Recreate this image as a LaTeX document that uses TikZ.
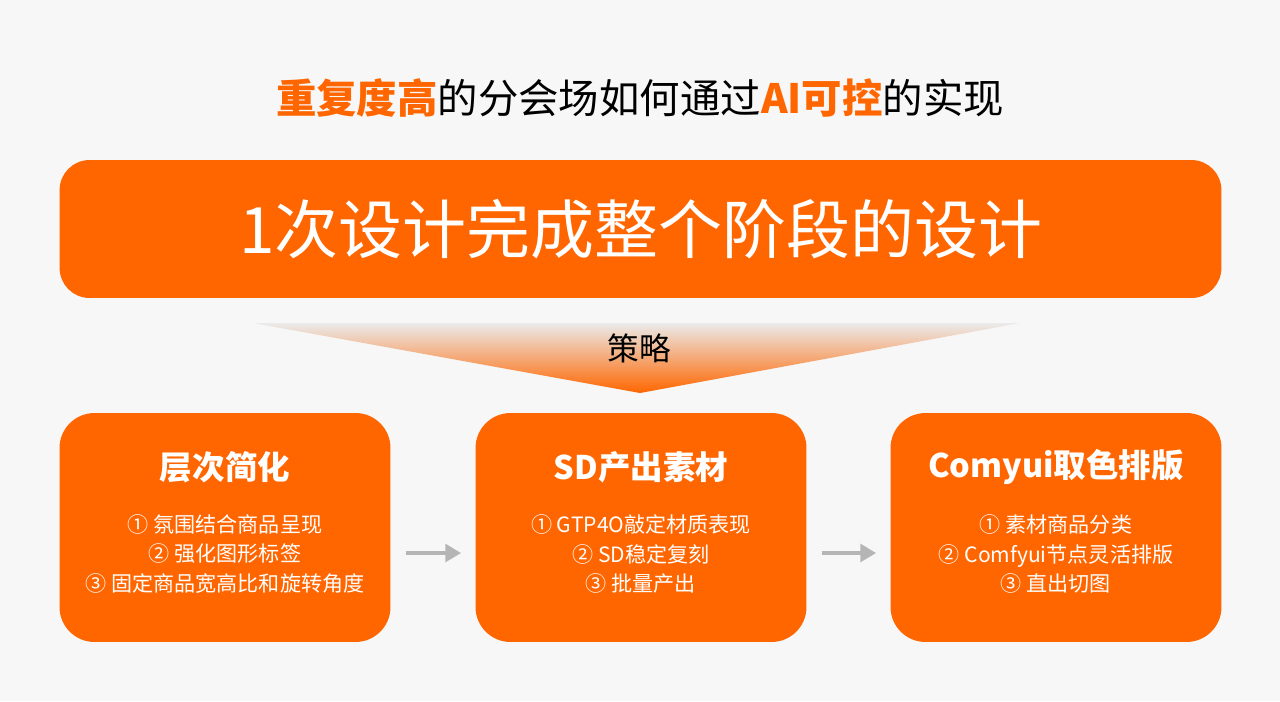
\documentclass[tikz,border=0pt]{standalone}
\usepackage{fontspec}
\setmainfont{Noto Sans CJK SC}
\usetikzlibrary{calc,arrows.meta}

\definecolor{brand}{HTML}{FF6600}
\definecolor{paper}{HTML}{F7F7F7}
\definecolor{flowgray}{HTML}{B5B5B5}

\tikzset{
    bar/.style={fill=brand, rounded corners=0.6cm, minimum width=23.24cm,
        minimum height=2.76cm, text=white, font=\fontsize{36.4}{40}\selectfont},
    stagebox/.style={fill=brand, rounded corners=0.7cm, minimum width=6.62cm,
        minimum height=4.58cm},
    stagetitle/.style={text=white, font=\bfseries\fontsize{18.5}{22}\selectfont},
    stageitems/.style={text=white, align=center, font=\fontsize{12}{17}\selectfont},
    flow/.style={draw=flowgray, line width=2.3pt,
        -{Triangle[length=9pt,width=10pt]}, shorten <=8.5pt, shorten >=8pt},
}

\begin{document}
\begin{tikzpicture}[x=0.02cm, y=-0.02cm]
    \fill[paper] (0,0) rectangle (1280,701);
    \useasboundingbox (0,0) rectangle (1280,701);
    % headline
    \node (head) at (640,98) {\fontsize{23}{27}\selectfont
        {\bfseries\color{brand}重复度高}的分会场如何通过{\bfseries\color{brand}AI可控}的实现};
    \node[bar] (goal) at (640.5,229) {1次设计完成整个阶段的设计};
    % strategy wedge
    \coordinate (wl) at (253,323);
    \coordinate (wr) at (1020,323);
    \coordinate (wt) at (640,393);
    \shade[top color=black!8, bottom color=brand] (wl) -- (wr) -- (wt) -- cycle;
    \node (plan) at (639,348) {\fontsize{18}{22}\selectfont 策略};
    % stages
    \node[stagebox] (s1) at (225,527.5) {};
    \node[stagebox] (s2) at (641,527.5) {};
    \node[stagebox] (s3) at (1056,527.5) {};
    \node[stagetitle] (t1) at (225,467) {层次简化};
    \node[stagetitle] (t2) at (641,467) {SD产出素材};
    \node[stagetitle] (t3) at (1056,467) {Comyui取色排版};
    \node[stageitems] (i1) at (225,554) {① 氛围结合商品呈现\\② 强化图形标签\\③ 固定商品宽高比和旋转角度};
    \node[stageitems] (i2) at (641,554) {① GTP4O敲定材质表现\\② SD稳定复刻\\③ 批量产出};
    \node[stageitems] (i3) at (1056,554) {① 素材商品分类\\② Comfyui节点灵活排版\\③ 直出切图};
    \draw[flow] ($(s1.east)+(0,25.5)$) -- ($(s2.west)+(0,25.5)$);
    \draw[flow] ($(s2.east)+(0,25.5)$) -- ($(s3.west)+(0,25.5)$);
\end{tikzpicture}
\end{document}
